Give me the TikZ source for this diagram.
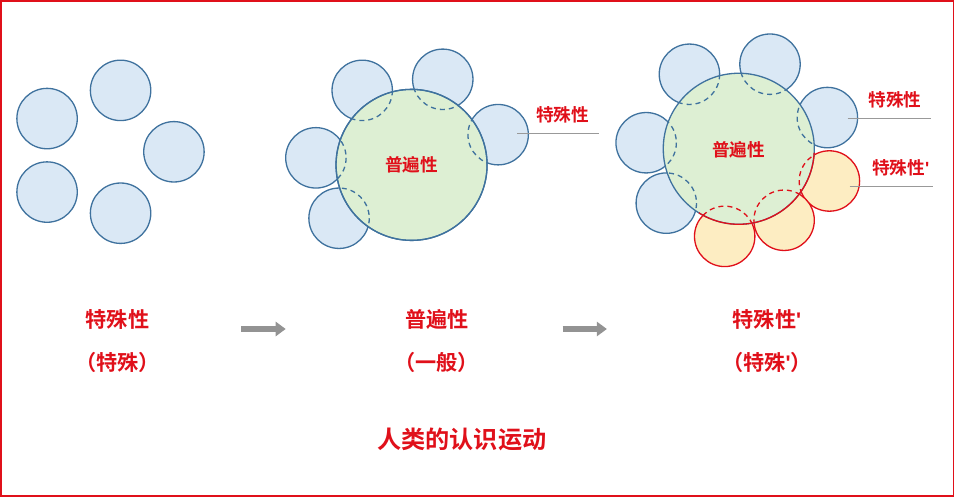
\documentclass[tikz,border=0pt]{standalone}
\usepackage{fontspec}
\setmainfont{Noto Sans CJK SC Bold}
\newfontfamily\primefont{Liberation Sans Bold}
\usetikzlibrary{arrows.meta}
\definecolor{cblue}{HTML}{DAE8F5}
\definecolor{cbord}{HTML}{3F729E}
\definecolor{cgreen}{HTML}{DDEFD3}
\definecolor{cyell}{HTML}{FDEDC2}
\definecolor{cred}{HTML}{E0101A}
\newcommand{\prm}{{\primefont\char"27}}
\tikzset{
  part/.style={draw=cbord,fill=cblue,line width=1.3pt},
  newpart/.style={draw=cred,fill=cyell,line width=1.3pt},
  whole/.style={draw=cbord,fill=cgreen,line width=1.3pt},
  hidden/.style={draw=cbord,dash pattern=on 5pt off 4pt,line width=1.3pt},
  newhidden/.style={draw=cred,dash pattern=on 5pt off 4pt,line width=1.3pt},
  lbl/.style={text=cred,font=\fontsize{17.5}{19}\selectfont},
  biglbl/.style={text=cred,font=\fontsize{21}{24}\selectfont},
  leader/.style={draw=gray!80,line width=0.8pt},
  step arrow/.style={draw=gray!85,line width=6pt,-{Triangle[length=10pt,width=14pt]}}
}
\begin{document}
\begin{tikzpicture}[x=1pt,y=-1pt]

% frame
\draw[cred,line width=1.5pt] (4,4) rectangle (950,496);

% left: separate particulars
\foreach \px/\py in {50/121,123/93,176/154,50/194,123/215}
  \draw[part] (\px,\py) circle (30);

% middle: universal
\foreach \px/\py in {363/93,443/82,498/137,317/160,340/220}
  \draw[part] (\px,\py) circle (30);
\draw[whole] (412,167) circle (75);
\begin{scope}
  \clip (412,167) circle (75);
  \foreach \px/\py in {363/93,443/82,498/137,317/160,340/220}
    \draw[hidden] (\px,\py) circle (30);
\end{scope}
\draw[whole,fill=none] (412,167) circle (75);
\node[lbl] (midC) at (412,167) {普遍性};
\node[lbl] (midP) at (562,117) {特殊性};
\coordinate (midA) at (517,136);
\coordinate (midB) at (598,136);
\draw[leader] (midA) -- (midB);

% right: universal with new particulars
\foreach \px/\py in {688/77,768/67,825/120,645/145,665/205}
  \draw[part] (\px,\py) circle (30);
\foreach \px/\py in {827/183,782/222,723/238}
  \draw[newpart] (\px,\py) circle (30);
\draw[whole] (737,151) circle (75);
\begin{scope}
  \clip (737,151) circle (75);
  \foreach \px/\py in {688/77,768/67,825/120,645/145,665/205}
    \draw[hidden] (\px,\py) circle (30);
  \foreach \px/\py in {827/183,782/222,723/238}
    \draw[newhidden] (\px,\py) circle (30);
\end{scope}
\draw[cred,line width=1.3pt] (737,151) ++(122:75) arc[start angle=122,end angle=3,radius=75];
\node[lbl] (rgtC) at (737,152) {普遍性};
\node[lbl] (rgtP) at (892,102) {特殊性};
\coordinate (rgtA) at (845,121);
\coordinate (rgtB) at (928,121);
\draw[leader] (rgtA) -- (rgtB);
\node[lbl] (rgtQ) at (898,170) {特殊性\prm};
\coordinate (rgtC1) at (847,188);
\coordinate (rgtD) at (930,188);
\draw[leader] (rgtC1) -- (rgtD);

% captions
\node[biglbl] (capA) at (120,321) {特殊性};
\node[biglbl] (capA2) at (120,363) {（特殊）};
\node[biglbl] (capB) at (437,321) {普遍性};
\node[biglbl] (capB2) at (437,363) {（一般）};
\node[biglbl] (capC) at (765,321) {特殊性\prm};
\node[biglbl] (capC2) at (765,363) {（特殊\prm）};
\coordinate (arA1) at (243,330);
\coordinate (arA2) at (287,330);
\draw[step arrow] (arA1) -- (arA2);
\coordinate (arB1) at (562,330);
\coordinate (arB2) at (606,330);
\draw[step arrow] (arB1) -- (arB2);

\node[text=cred,font=\fontsize{24}{26}\selectfont] (title) at (462,440) {人类的认识运动};

\end{tikzpicture}
\end{document}
